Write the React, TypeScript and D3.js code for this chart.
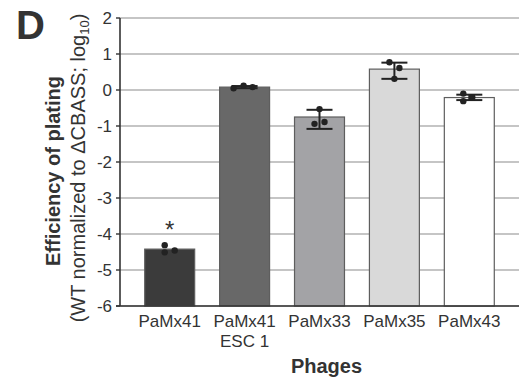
import React from 'react';
import * as d3 from 'd3';

// chart data
const categories = ['PaMx41', 'PaMx41 ESC 1', 'PaMx33', 'PaMx35', 'PaMx43'];
const tickLines = [['PaMx41'], ['PaMx41', 'ESC 1'], ['PaMx33'], ['PaMx35'], ['PaMx43']];
const means = [-4.42, 0.08, -0.75, 0.58, -0.21];
const errLow = [null, 0.05, -1.08, 0.31, -0.28];
const errHigh = [null, 0.11, -0.55, 0.76, -0.13];
const replicates = [
  [-4.31, -4.51, -4.46],
  [0.05, 0.12, 0.08],
  [-0.53, -0.94, -0.89],
  [0.77, 0.61, 0.31],
  [-0.1, -0.31, -0.2],
];
const significant = [true, false, false, false, false];
const yTicks = [2, 1, 0, -1, -2, -3, -4, -5, -6];

const fills = ['#3b3b3b', '#686868', '#a3a3a6', '#d9d9d9', '#ffffff'];
const jitter = [
  [-5, -5, 5],
  [-11, -1, 8],
  [0, -5, 5],
  [-5, 5, 0],
  [-6, -6, 3],
];

const FONT = 'Liberation Sans, Arial, Helvetica, sans-serif';
const INK = '#333';

export default function App() {
  const width = 522, height = 381;
  const margin = { top: 18, right: 3, bottom: 75, left: 120 };
  const plotW = width - margin.left - margin.right;
  const plotH = height - margin.top - margin.bottom;

  const x = d3.scaleBand<string>().domain(categories).range([0, plotW]).paddingInner(0.333).paddingOuter(0.33);
  const y = d3.scaleLinear().domain([-6, 2]).range([plotH, 0]);
  const bw = x.bandwidth();

  return (
    <svg width={width} height={height} style={{ position: 'absolute', left: 0, top: 0, background: '#fff' }} fontFamily={FONT}>
      <text x={16} y={39} fontSize={40} fontWeight="bold" fill={INK}>D</text>

      {/* y axis title */}
      <g transform="translate(60,171) rotate(-90)">
        <text textAnchor="middle" fontSize={20} fontWeight="bold" fill={INK}>Efficiency of plating</text>
      </g>
      <g transform="translate(85,168) rotate(-90)">
        <text textAnchor="middle" fontSize={20} fill={INK}>
          (WT normalized to ΔCBASS; log<tspan fontSize={13} dy={4}>10</tspan><tspan dy={-4}>)</tspan>
        </text>
      </g>

      <g transform={`translate(${margin.left},${margin.top})`}>
        {/* gridlines */}
        {yTicks.map(t => (
          <line key={'g' + t} x1={0} x2={plotW} y1={y(t)} y2={y(t)} stroke="#8c8c8c" strokeWidth={1.2} />
        ))}

        {/* bars */}
        {categories.map((c, i) => {
          const base = y(-6);
          return (
            <rect key={c} x={x(c)} y={y(means[i])} width={bw}
              height={base - y(means[i])} fill={fills[i]} stroke="#5e5e5e" strokeWidth={1.2} />
          );
        })}

        {/* error bars */}
        {categories.map((c, i) => {
          if (errLow[i] == null) return null;
          const cx = x(c)! + bw / 2;
          return (
            <g key={'e' + c} stroke="#222" strokeWidth={2}>
              <line x1={cx} x2={cx} y1={y(errHigh[i]!)} y2={y(errLow[i]!)} />
              <line x1={cx - 13} x2={cx + 13} y1={y(errHigh[i]!)} y2={y(errHigh[i]!)} />
              <line x1={cx - 13} x2={cx + 13} y1={y(errLow[i]!)} y2={y(errLow[i]!)} />
            </g>
          );
        })}

        {/* replicate dots */}
        {categories.map((c, i) => {
          const cx = x(c)! + bw / 2;
          return replicates[i].map((v, j) => (
            <circle key={c + j} cx={cx + jitter[i][j]} cy={y(v)} r={3.2} fill="#222" />
          ));
        })}

        {/* significance */}
        {categories.map((c, i) => significant[i] ? (
          <text key={'s' + c} x={x(c)! + bw / 2} y={y(Math.max(...replicates[i])) - 7}
            textAnchor="middle" fontSize={24} fill={INK}>*</text>
        ) : null)}

        {/* y axis */}
        <line x1={0} x2={0} y1={0} y2={plotH} stroke={INK} strokeWidth={1.6} />
        {yTicks.map(t => (
          <g key={'t' + t} transform={`translate(0,${y(t)})`}>
            <line x1={-4} x2={0} stroke={INK} strokeWidth={1.4} />
            <text x={-8} dy="0.35em" textAnchor="end" fontSize={17} fill={INK}>{t}</text>
          </g>
        ))}

        {/* x axis */}
        <line x1={-4} x2={plotW} y1={plotH} y2={plotH} stroke={INK} strokeWidth={1.6} />
        {categories.map((c, i) => (
          <text key={'x' + c} x={x(c)! + bw / 2} y={plotH + 21} textAnchor="middle" fontSize={17} fill={INK}>
            {tickLines[i].map((l, k) => (
              <tspan key={k} x={x(c)! + bw / 2} dy={k === 0 ? 0 : 20}>{l}</tspan>
            ))}
          </text>
        ))}
        <text x={x('PaMx33')! + bw / 2 + 7} y={plotH + 67} textAnchor="middle" fontSize={20} fontWeight="bold" fill={INK}>Phages</text>
      </g>
    </svg>
  );
}
